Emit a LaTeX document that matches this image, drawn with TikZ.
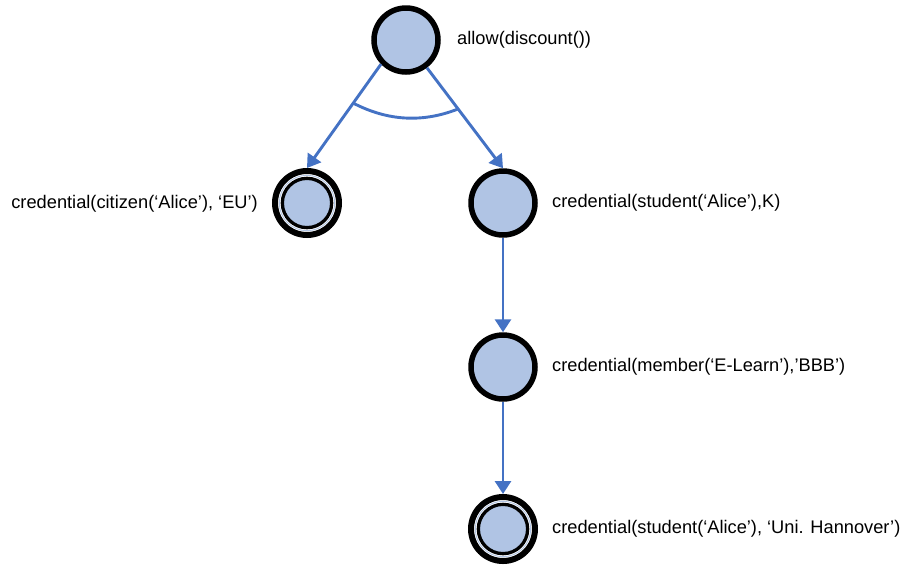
\documentclass[tikz,border=0pt]{standalone}
\usepackage{fontspec}
\setmainfont{Liberation Sans}
\usetikzlibrary{arrows.meta}
\definecolor{nodefill}{RGB}{176,196,228}
\definecolor{edgeblue}{RGB}{68,114,196}
\tikzset{
  goal/.style={circle, draw=black, fill=nodefill, line width=5.5pt, minimum size=64pt, inner sep=0pt},
  leafgoal/.style={circle, draw=black, fill=white, line width=6pt, minimum size=64pt, inner sep=0pt},
  lbl/.style={inner sep=0pt, font=\fontsize{18.25}{21}\selectfont},
  conn/.style={draw=edgeblue, line width=2.9pt, -{Triangle[length=13pt,width=16pt]}},
  andarc/.style={draw=edgeblue, line width=2.9pt}
}
\newcommand{\innerrings}[1]{%
  \draw[fill=nodefill, line width=3.3pt] (#1.center) circle (24.65pt);
  \draw[nodefill, line width=0.9pt] (#1.center) circle (27.7pt);
}
\begin{document}
\begin{tikzpicture}[x=1pt,y=-1pt]
\useasboundingbox (0,0) rectangle (903,566);
\node[goal] (top) at (406,40) {};
\node[leafgoal] (cit) at (307,203) {};
\innerrings{cit}
\node[goal] (stu) at (503,203) {};
\node[goal] (mem) at (503,367) {};
\node[leafgoal] (uni) at (503,529) {};
\innerrings{uni}

\node[lbl, anchor=west] (ltop) at (457,40) {allow(discount())};
\node[lbl, anchor=east] (lcit) at (258,204) {credential(citizen(‘Alice’), ‘EU’)};
\node[lbl, anchor=west] (lstu) at (552,203) {credential(student(‘Alice’),K)};
\node[lbl, anchor=west] (lmem) at (552,367) {credential(member(‘E-Learn’),’BBB’)};
\node[lbl, anchor=west] (luni) at (552,529) {credential(student(‘Alice’), ‘Uni. Hannover’)};

\path[conn] (top.224) -- (cit.north);
\path[conn] (top.307) -- (stu.north);
\path[conn] (stu.south) -- (mem.north);
\path[conn] (mem.south) -- (uni.north);

\coordinate (al) at (353,103);
\coordinate (ar) at (458,109);
\path[andarc] (al) .. controls (387.7,121) and (422.3,123) .. (ar);
\end{tikzpicture}
\end{document}
